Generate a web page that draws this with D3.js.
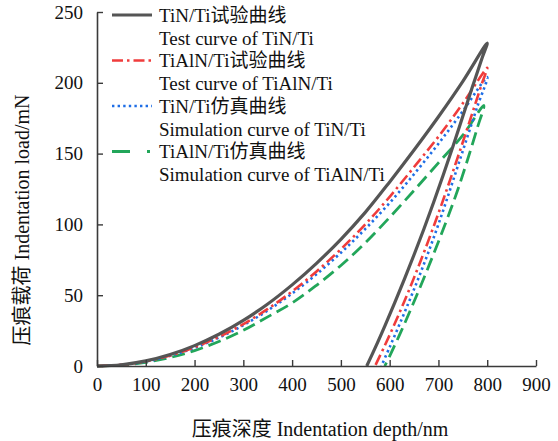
<!DOCTYPE html>
<html><head><meta charset="utf-8">
<script src="https://cdn.jsdelivr.net/npm/d3@7"></script>
<style>
body{margin:0;background:#fff;}
svg{display:block;}
text{font-family:"Liberation Serif","Times New Roman","Noto Sans CJK SC",serif;fill:#111;}
</style></head><body>
<svg id="c" width="558" height="441"></svg>
<script>
// ---- data ----
const xTicks = [0,100,200,300,400,500,600,700,800,900];
const yTicks = [0,50,100,150,200,250];

// loading + unloading branches: depth (nm) and load (mN)
const tinTestDepth  = [0,50,100,150,200,250,300,350,400,450,500,550,600,650,700,750,800, 790,770,750,730,710,690,670,650,630,610,590,570,553];
const tinTestLoad   = [0,0.9,3.6,8.1,14.4,22.4,32.2,43.8,57.3,72.5,89.5,108.5,130,152.5,176,201,228, 218,197.5,176.4,155.4,135,115.4,96.6,78.6,61.2,44.4,28.2,12.6,0];

const tialnTestDepth = [0,50,100,150,200,250,300,350,400,450,500,550,600,650,700,750,800, 790,770,750,730,710,690,670,650,630,610,590,570];
const tialnTestLoad  = [0,0.8,3.3,7.4,13.2,20.6,29.6,40.3,52.7,66.8,82.5,100,119.5,140.5,162,185.5,210.5, 200.4,179.2,158.2,137.6,117.6,98.4,80,62.4,45.6,29.6,14.4,0];

const tinSimDepth = [0,50,100,150,200,250,300,350,400,450,500,550,600,650,700,750,800, 780,760,740,720,700,680,660,640,620,600,583];
const tinSimLoad  = [0,0.8,3.2,7.2,12.8,20,28.8,39.2,51.2,64.8,80,96.8,115.2,135.5,157,180,204, 183.5,162.5,141.5,120.5,100.1,80.9,62.9,45.7,29.3,13.3,0];

const tialnSimDepth = [0,50,100,150,200,250,300,350,400,450,500,550,600,650,700,750,793, 780,760,740,720,700,680,660,640,620,600,590];
const tialnSimLoad  = [0,0.6,2.6,6.0,10.9,17.3,25.2,34.7,44.5,57,71,87,105,124,143.5,163,184, 168.5,146,124.8,105.8,87.8,70.4,53.6,37.4,21.8,7,0];

const seriesNames = ["TiN/Ti试验曲线","TiAlN/Ti试验曲线","TiN/Ti仿真曲线","TiAlN/Ti仿真曲线"];
const seriesNamesEn = ["Test curve of TiN/Ti","Test curve of TiAlN/Ti","Simulation curve of TiN/Ti","Simulation curve of TiAlN/Ti"];
const seriesColors = ["#555555","#f03c3c","#1f6ee6","#22a65a"];

// ---- layout ----
const svg = d3.select("#c");
const x = d3.scaleLinear().domain([0,900]).range([97,536]);
const y = d3.scaleLinear().domain([0,250]).range([366,12]);

const styles = [
  {w:3.2, dash:null, legendDash:null},
  {w:2.6, dash:"11,4,2.5,4", legendDash:"11,4,2.5,4"},
  {w:2.6, dash:"2.4,3.2", legendDash:"2.4,3.2"},
  {w:2.8, dash:"13,6", legendDash:"18,17,3,10"}
];

const series = [
  {d:tinTestDepth, l:tinTestLoad},
  {d:tialnTestDepth, l:tialnTestLoad},
  {d:tinSimDepth, l:tinSimLoad},
  {d:tialnSimDepth, l:tialnSimLoad}
];

const line = d3.line().x(p=>x(p[0])).y(p=>y(p[1])).curve(d3.curveCatmullRom.alpha(0.5));

const order = [3,2,1,0];
order.forEach(i=>{
  const s = series[i];
  const pts = s.d.map((v,k)=>[v,s.l[k]]);
  svg.append("path").attr("d", line(pts))
    .attr("fill","none").attr("stroke",seriesColors[i])
    .attr("stroke-width",styles[i].w)
    .attr("stroke-linejoin","round")
    .attr("stroke-dasharray",styles[i].dash);
});

// axes
const axColor = "#3a3a3a";
const gx = svg.append("g").attr("transform","translate(0,366)")
  .call(d3.axisBottom(x).tickValues(xTicks).tickSizeInner(-6).tickSizeOuter(0).tickPadding(12));
const gy = svg.append("g").attr("transform","translate(97,0)")
  .call(d3.axisLeft(y).tickValues(yTicks).tickSizeInner(-6).tickSizeOuter(0).tickPadding(14));
[gx,gy].forEach(g=>{
  g.select(".domain").attr("stroke",axColor).attr("stroke-width",1.6);
  g.selectAll(".tick line").attr("stroke",axColor).attr("stroke-width",1.4);
  g.selectAll(".tick text").attr("font-size",19).attr("fill","#111")
    .attr("font-family","'Liberation Serif','Times New Roman',serif");
});

// axis titles
svg.append("text").attr("x",320).attr("y",436).attr("text-anchor","middle")
  .attr("font-size",20).text("压痕深度 Indentation depth/nm");
svg.append("text").attr("transform","translate(29,220) rotate(-90)").attr("text-anchor","middle")
  .attr("font-size",20).text("压痕载荷 Indentation load/mN");

// legend
const lgRow0 = 15, lgStep = 45.5;
seriesNames.forEach((n,i)=>{
  const cy = lgRow0 + i*lgStep;
  svg.append("line").attr("x1",112).attr("x2",152).attr("y1",cy).attr("y2",cy)
    .attr("stroke",seriesColors[i]).attr("stroke-width",styles[i].w)
    .attr("stroke-dasharray",styles[i].legendDash);
  svg.append("text").attr("x",159).attr("y",cy+6.5).attr("font-size",19).text(n);
  svg.append("text").attr("x",159).attr("y",cy+6.5+23).attr("font-size",19).text(seriesNamesEn[i]);
});
</script>
</body></html>
